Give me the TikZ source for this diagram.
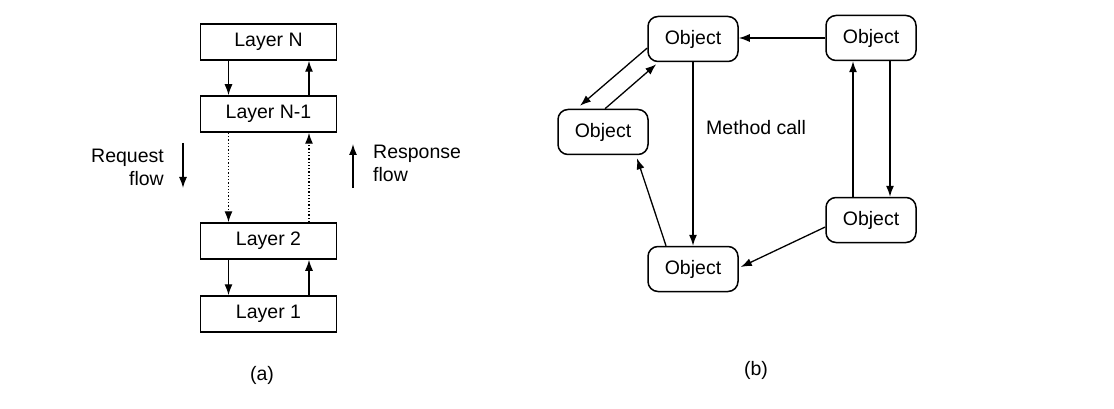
\documentclass[tikz,border=0pt]{standalone}
\usepackage{fontspec}
\setmainfont{Liberation Sans}
\usetikzlibrary{arrows.meta}
\begin{document}
\begin{tikzpicture}[x=1pt,y=-1pt,
  every node/.style={font=\fontsize{19.5}{23}\selectfont},
  layerbox/.style={draw,line width=1.5pt,minimum width=136pt,minimum height=36pt,inner sep=0pt},
  objbox/.style={draw,line width=1.5pt,rounded corners=10pt,minimum width=90pt,minimum height=45pt,inner sep=0pt},
  arr/.style={line width=1.3pt,-{Latex[length=11pt,width=8pt]}},
  dotarr/.style={arr,dotted}]
\useasboundingbox (0,0) rectangle (1114,409);
% (a)
\node[layerbox] (LN) at (268.5,42) {Layer N};
\node[layerbox] (LN1) at (268.5,114) {Layer N-1};
\node[layerbox] (L2) at (268.5,241) {Layer 2};
\node[layerbox] (L1) at (268.5,314) {Layer 1};
\draw[arr] ([xshift=-40pt]LN.south) -- ([xshift=-40pt]LN1.north);
\draw[arr] ([xshift=40.5pt]LN1.north) -- ([xshift=40.5pt]LN.south);
\draw[dotarr] ([xshift=-40pt]LN1.south) -- ([xshift=-40pt]L2.north);
\draw[dotarr] ([xshift=40.5pt]L2.north) -- ([xshift=40.5pt]LN1.south);
\draw[arr] ([xshift=-40pt]L2.south) -- ([xshift=-40pt]L1.north);
\draw[arr] ([xshift=40.5pt]L1.north) -- ([xshift=40.5pt]L2.south);
\node[align=right,anchor=east,inner sep=0pt] (req) at (164,167) {Request\\flow};
\coordinate (rq1) at (183,143);
\coordinate (rq2) at (183,188);
\draw[arr] (rq1) -- (rq2);
\node[align=left,anchor=west,inner sep=0pt] (resp) at (373,163) {Response\\flow};
\coordinate (rs1) at (353,188);
\coordinate (rs2) at (353,144);
\draw[arr] (rs1) -- (rs2);
\node (capa) at (262,375) {(a)};
% (b)
\node[objbox] (OTM) at (693,39) {Object};
\node[objbox] (OTR) at (871,38) {Object};
\node[objbox] (OL) at (603,132) {Object};
\node[objbox] (OBR) at (871,220) {Object};
\node[objbox] (OBM) at (693,269) {Object};
\draw[arr] (OTR.west) -- (OTM.east |- OTR.west);
\draw[arr] ([yshift=-9pt]OTM.west) -- ([xshift=-23pt,yshift=3pt]OL.north);
\draw[arr] ([xshift=2pt]OL.north) -- ([xshift=9pt,yshift=-2pt]OTM.south west);
\draw[arr] (OTM.south) -- (OBM.north);
\draw[arr] ([xshift=-27pt]OBM.north) -- ([xshift=34pt,yshift=-3pt]OL.south);
\draw[arr] ([xshift=-18pt]OBR.north) -- ([xshift=-18pt]OTR.south);
\draw[arr] ([xshift=19pt]OTR.south) -- ([xshift=19pt]OBR.north);
\draw[arr] ([yshift=-7pt]OBR.west) -- ([xshift=2pt,yshift=2pt]OBM.east);
\node[anchor=west,inner sep=0pt] (mc) at (706,128) {Method call};
\node (capb) at (756,370) {(b)};
\end{tikzpicture}
\end{document}
